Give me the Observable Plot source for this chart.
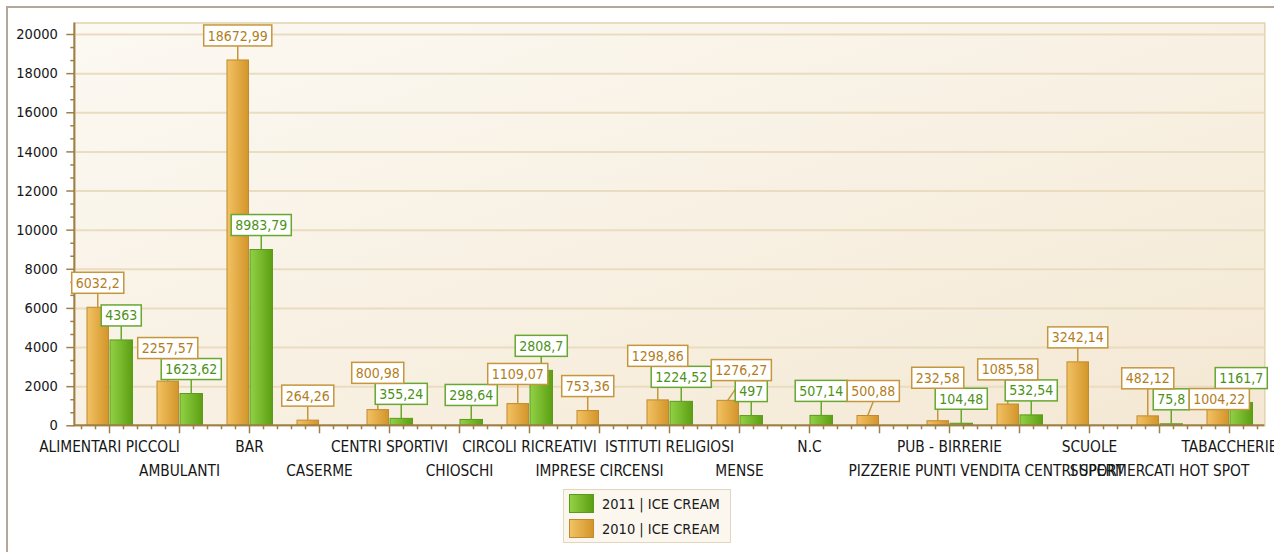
<!DOCTYPE html>
<html>
<head>
<meta charset="utf-8">
<script src="https://cdn.jsdelivr.net/npm/d3@7"></script>
<script src="https://cdn.jsdelivr.net/npm/@observablehq/plot@0.6"></script>
<style>
  body { margin: 0; background: #ffffff; }
  #wrap { position: relative; width: 1274px; height: 552px; overflow: hidden; background: #ffffff;
          font-family: "DejaVu Sans Condensed", "DejaVu Sans", sans-serif; font-stretch: condensed; }
  #frame { position: absolute; left: 6px; top: 6px; width: 1290px; height: 560px;
           border-top: 2px solid #b3a79b; border-left: 2px solid #b3a79b; pointer-events: none; }
  #chart { position: absolute; left: 0; top: 0; }
  #legend { position: absolute; left: 563px; top: 489px; width: 166px; height: 52px;
            background: #fbf7ef; border: 1px solid #e2d6bf; }
  .item { position: absolute; left: 5px; height: 19px; display: flex; align-items: center; white-space: nowrap;
          font-size: 14.5px; color: #1a1a1a; }
  .sw { display: inline-block; width: 23px; height: 17px; margin-right: 8px; }
</style>
</head>
<body>
<div id="wrap">
  <div id="chart"></div>
  <div id="legend"></div>
  <div id="frame"></div>
</div>
<script>
// ---------------- data ----------------
const categories = [
  "ALIMENTARI PICCOLI", "AMBULANTI", "BAR", "CASERME", "CENTRI SPORTIVI", "CHIOSCHI",
  "CIRCOLI RICREATIVI", "IMPRESE CIRCENSI", "ISTITUTI RELIGIOSI", "MENSE", "N.C", "PIZZERIE",
  "PUB - BIRRERIE", "PUNTI VENDITA CENTRI SPORT", "SCUOLE", "SUPERMERCATI HOT SPOT", "TABACCHERIE"
];
const values2010 = [6032.2, 2257.57, 18672.99, 264.26, 800.98, null, 1109.07, 753.36, 1298.86,
                    1276.27, null, 500.88, 232.58, 1085.58, 3242.14, 482.12, 1004.22];
const values2011 = [4363, 1623.62, 8983.79, null, 355.24, 298.64, 2808.7, null, 1224.52,
                    497, 507.14, null, 104.48, 532.54, null, 75.8, 1161.7];
const seriesKeys = ["2011", "2010"];
const seriesNames = ["2011 | ICE CREAM", "2010 | ICE CREAM"];
const yTicks = [0, 2000, 4000, 6000, 8000, 10000, 12000, 14000, 16000, 18000, 20000];

// ---------------- styles ----------------
const FONT = '"DejaVu Sans Condensed", "DejaVu Sans", sans-serif';
const AXIS = "#9f7f47";
const STY = {
  "2010": { light: "#f2c264", dark: "#d3952a", stroke: "#c08a2e", text: "#b37d1c", box: "#c6963c" },
  "2011": { light: "#92d146", dark: "#5c9f12", stroke: "#5b9a1d", text: "#4c9118", box: "#68a830" }
};
const INSET = { "2010": [13, 35.5], "2011": [36, 11.5] };
const W = 1274, H = 482;
const mL = 74.3, mR = 9.7, mT = 22.5, axisYpx = 425.3;
const yMax = 20588;

const rowsFor = (vals, key) => categories.map((c, i) => ({ cat: c, value: vals[i], key }))
  .filter(d => d.value != null);
const rows2010 = rowsFor(values2010, "2010");
const rows2011 = rowsFor(values2011, "2011");

// text measurement
const meas = d3.select("body").append("svg").attr("width", 1).attr("height", 1)
  .style("position", "absolute").style("left", "-9999px").style("top", "0px");
const measText = meas.append("text").style("font-family", FONT).style("font-size", "14px")
  .style("font-stretch", "condensed");
const textW = s => { measText.text(s); return measText.node().getComputedTextLength(); };
const fmt = v => String(v).replace(".", ",");

// ---------------- helper marks ----------------
function defsMark(index, scales, values, dims) {
  const g = d3.create("svg:g");
  const defs = g.append("defs");
  const bg = defs.append("linearGradient").attr("id", "bgGrad")
    .attr("x1", "0").attr("y1", "0").attr("x2", "1").attr("y2", "1");
  bg.append("stop").attr("offset", "0").attr("stop-color", "#fcf9f3");
  bg.append("stop").attr("offset", "1").attr("stop-color", "#f4e8d3");
  for (const k of seriesKeys) {
    const lg = defs.append("linearGradient").attr("id", "g" + k)
      .attr("x1", "0").attr("y1", "0").attr("x2", "1").attr("y2", "0");
    lg.append("stop").attr("offset", "0").attr("stop-color", STY[k].light);
    lg.append("stop").attr("offset", "1").attr("stop-color", STY[k].dark);
  }
  return g.node();
}

function axisLines(index, scales, values, dims) {
  const g = d3.create("svg:g");
  const x0 = dims.marginLeft, x1 = dims.width - dims.marginRight;
  const y0 = dims.marginTop, y1 = dims.height - dims.marginBottom;
  g.append("line").attr("x1", x0).attr("x2", x0).attr("y1", y0).attr("y2", y1 + 1)
    .attr("stroke", AXIS).attr("stroke-width", 2);
  g.append("line").attr("x1", x0).attr("x2", x1).attr("y1", y1).attr("y2", y1)
    .attr("stroke", AXIS).attr("stroke-width", 2);
  return g.node();
}

function labelsMark(index, scales, values, dims) {
  const x = scales.x, y = scales.y;
  const bw = x.bandwidth ? x.bandwidth() : (x(categories[1]) - x(categories[0]));
  const BH = 21, GAP = 14;
  const items = [];
  for (const k of seriesKeys) {
    const rows = k === "2010" ? rows2010 : rows2011;
    for (const d of rows) {
      const x0 = x(d.cat);
      const [il, ir] = INSET[k];
      const cx = (x0 + il + x0 + bw - ir) / 2;
      const top = y(d.value);
      const label = fmt(d.value);
      const w = textW(label) + 8;
      items.push({ k, cx, top, label, w });
    }
  }
  const ov = (a, b) => a.x0 < b.x1 - 0.01 && b.x0 < a.x1 - 0.01 && a.y0 < b.y1 - 0.01 && b.y0 < a.y1 - 0.01;
  const shift = (b, dx, dy) => ({ x0: b.x0 + dx, x1: b.x1 + dx, y0: b.y0 + dy, y1: b.y1 + dy, dx: b.dx + dx, dy: b.dy + dy });
  const yLimit = dims.height - dims.marginBottom;
  const placed = [];
  for (const it of items) {
    const base = { x0: it.cx - it.w / 2, x1: it.cx + it.w / 2, y0: it.top - GAP - BH, y1: it.top - GAP, dx: 0, dy: 0 };
    const valid = b => b.y1 <= yLimit && b.y0 >= 0 && !placed.some(p => ov(b, p));
    let best = null;
    if (valid(base)) best = base;
    else {
      let frontier = [base];
      const cands = [];
      for (let depth = 0; depth < 3; depth++) {
        const next = [];
        for (const b of frontier) for (const p of placed) if (ov(b, p)) {
          next.push(shift(b, 0, p.y0 - b.y1), shift(b, 0, p.y1 - b.y0),
                    shift(b, p.x0 - b.x1, 0), shift(b, p.x1 - b.x0, 0));
        }
        for (const n of next) if (valid(n)) cands.push(n);
        frontier = next.filter(n => !valid(n)).slice(0, 200);
      }
      best = cands.length ? cands.reduce((a, b) => Math.hypot(a.dx, a.dy) <= Math.hypot(b.dx, b.dy) ? a : b) : base;
    }
    it.box = best;
    placed.push(best);
  }
  const g = d3.create("svg:g").attr("font-family", FONT).attr("font-size", 14).attr("font-stretch", "condensed");
  for (const it of items) {
    const b = it.box;
    g.append("line").attr("x1", it.cx).attr("y1", it.top)
      .attr("x2", (b.x0 + b.x1) / 2).attr("y2", b.y1)
      .attr("stroke", STY[it.k].box).attr("stroke-width", 1.5);
  }
  for (const it of items) {
    const b = it.box;
    g.append("rect").attr("x", b.x0).attr("y", b.y0).attr("width", b.x1 - b.x0).attr("height", b.y1 - b.y0)
      .attr("fill", "#ffffff").attr("stroke", STY[it.k].box).attr("stroke-width", 1.5);
    g.append("text").attr("x", (b.x0 + b.x1) / 2).attr("y", (b.y0 + b.y1) / 2).attr("dy", "0.36em")
      .attr("text-anchor", "middle").attr("fill", STY[it.k].text).text(it.label);
  }
  return g.node();
}

// ---------------- plot ----------------
const minorY = [];
for (let i = 0; i < yTicks.length - 1; i++) {
  const a = yTicks[i], s = (yTicks[i + 1] - a) / 3;
  minorY.push(a + s, a + 2 * s);
}
const even = categories.filter((d, i) => i % 2 === 0);
const odd = categories.filter((d, i) => i % 2 === 1);

const barOpts = k => ({
  x: "cat", y: "value", fill: `url(#g${k})`, stroke: STY[k].stroke, strokeWidth: 1,
  insetLeft: INSET[k][0], insetRight: INSET[k][1]
});

const plot = Plot.plot({
  width: W, height: H,
  marginLeft: mL, marginRight: mR, marginTop: mT, marginBottom: H - axisYpx,
  x: { type: "band", domain: categories, padding: 0, axis: null, label: null },
  y: { domain: [0, yMax], axis: null, label: null },
  style: { fontFamily: FONT, fontSize: "14px", color: "#161616", background: "transparent", overflow: "visible" },
  marks: [
    defsMark,
    Plot.frame({ fill: "url(#bgGrad)", stroke: "#e2d3ae", strokeWidth: 1.5 }),
    Plot.gridY(yTicks.slice(1), { stroke: "#eadcc0", strokeOpacity: 1, strokeWidth: 2 }),
    Plot.barY(rows2010, barOpts("2010")),
    Plot.barY(rows2011, barOpts("2011")),
    axisLines,
    Plot.axisY(yTicks, { label: null, tickSize: 8, tickPadding: 9, tickFormat: d => String(d), stroke: AXIS, strokeWidth: 1.5, fill: "#161616", fontSize: 14.5 }),
    Plot.axisY(minorY, { label: null, tickSize: 4, tickFormat: () => "", stroke: AXIS, strokeWidth: 1.5 }),
    ...[-28, -14, 14, 28].map(dx => Plot.axisX(categories, { label: null, tickSize: 4, dx, tickFormat: () => "", stroke: AXIS, strokeWidth: 1.5 })),
    Plot.axisX(even, { label: null, tickSize: 8, tickPadding: 7, stroke: AXIS, strokeWidth: 1.5, fill: "#161616", fontSize: 15.3 }),
    Plot.axisX(odd, { label: null, tickSize: 8, tickPadding: 31, stroke: AXIS, strokeWidth: 1.5, fill: "#161616", fontSize: 15.3 }),
    labelsMark
  ]
});
document.getElementById("chart").appendChild(plot);
meas.remove();

// ---------------- legend ----------------
const legend = d3.select("#legend");
seriesKeys.forEach((k, i) => {
  const item = legend.append("div").attr("class", "item").style("top", (4 + i * 25) + "px");
  item.append("span").attr("class", "sw")
    .style("background", `linear-gradient(to right, ${STY[k].light}, ${STY[k].dark})`)
    .style("border", `1px solid ${STY[k].stroke}`);
  item.append("span").text(seriesNames[i]);
});
</script>
</body>
</html>
